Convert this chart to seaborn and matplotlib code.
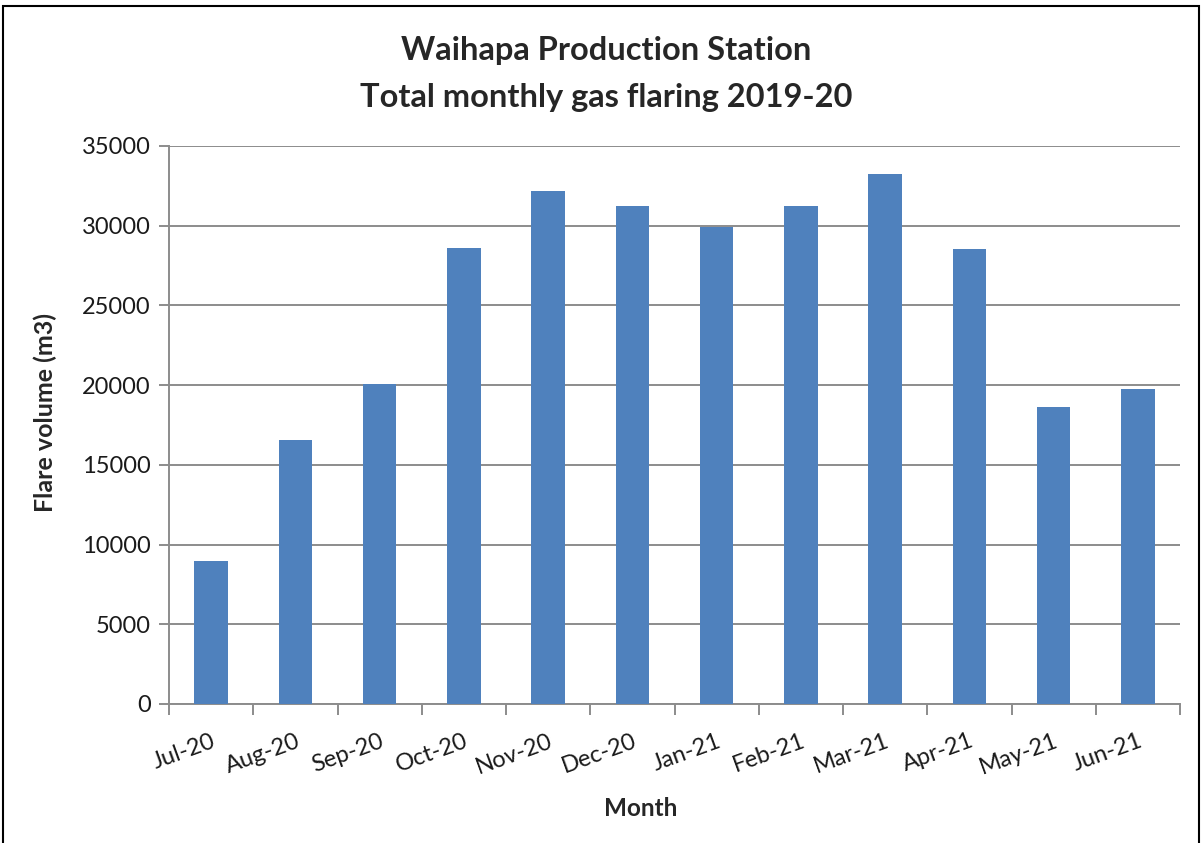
import matplotlib
matplotlib.use('Agg')
import matplotlib.pyplot as plt
import matplotlib.patches as patches
import seaborn as sns
import pandas as pd

months = ['Jul-20', 'Aug-20', 'Sep-20', 'Oct-20', 'Nov-20', 'Dec-20',
          'Jan-21', 'Feb-21', 'Mar-21', 'Apr-21', 'May-21', 'Jun-21']
flare_volume = [8950, 16550, 20100, 28600, 32150, 31250,
                29950, 31250, 33250, 28550, 18650, 19750]
y_ticks = [0, 5000, 10000, 15000, 20000, 25000, 30000, 35000]

BAR_COLOR = '#4F81BD'
GRID_COLOR = '#8C8C8C'

sns.set_style('white')
plt.rcParams['font.family'] = ['Lato', 'DejaVu Sans']

df = pd.DataFrame({'Month': months, 'Flare': flare_volume})

fig = plt.figure(figsize=(12.04, 8.43), dpi=100)
ax = fig.add_axes([169 / 1204, 1 - 704 / 843, (1180 - 169) / 1204, (704 - 146) / 843])

sns.barplot(data=df, x='Month', y='Flare', color=BAR_COLOR, saturation=1,
            width=0.4, linewidth=0, ax=ax, zorder=3)

ax.set_ylim(0, 35000)
ax.set_xlim(-0.5, len(months) - 0.5)
ax.set_yticks(y_ticks)
ax.set_yticklabels([str(v) for v in y_ticks], fontsize=17, color='#1a1a1a')
ax.yaxis.grid(True, color=GRID_COLOR, lw=1.4, zorder=0)
ax.tick_params(axis='y', length=7, width=1.4, color=GRID_COLOR, pad=6, left=True)

# category labels at centers, tick marks at boundaries
ax.set_xticks(range(len(months)))
ax.set_xticklabels(months, rotation=20, ha='right', rotation_mode='anchor',
                   fontsize=17, color='#1a1a1a')
ax.tick_params(axis='x', which='major', length=0, pad=19)
ax.set_xticks([i - 0.5 for i in range(len(months) + 1)], minor=True)
ax.tick_params(axis='x', which='minor', length=8, width=1.4, color=GRID_COLOR, bottom=True)

for side in ['top', 'right']:
    ax.spines[side].set_visible(False)
for side in ['left', 'bottom']:
    ax.spines[side].set_color(GRID_COLOR)
    ax.spines[side].set_linewidth(1.4)

ax.set_xlabel('')
ax.set_ylabel('')

fig.text(45 / 1204, 1 - 412 / 843, 'Flare volume (m3)', rotation=90,
         ha='center', va='center', fontsize=18, fontweight='bold')
fig.text(641 / 1204, 1 - 808 / 843, 'Month', ha='center', va='center',
         fontsize=17.5, fontweight='bold')
fig.text(606 / 1204, 1 - 74 / 843,
         'Waihapa Production Station\nTotal monthly gas flaring 2019-20',
         ha='center', va='center', fontsize=23.5, fontweight='bold', linespacing=1.75)

# outer frame
fig.patches.append(patches.Rectangle((3 / 1204, -0.05), 1196 / 1204, 1.05 - 6 / 843,
                                     transform=fig.transFigure, fill=False,
                                     edgecolor='black', lw=1.5))

fig.savefig('out.png', dpi=100)
